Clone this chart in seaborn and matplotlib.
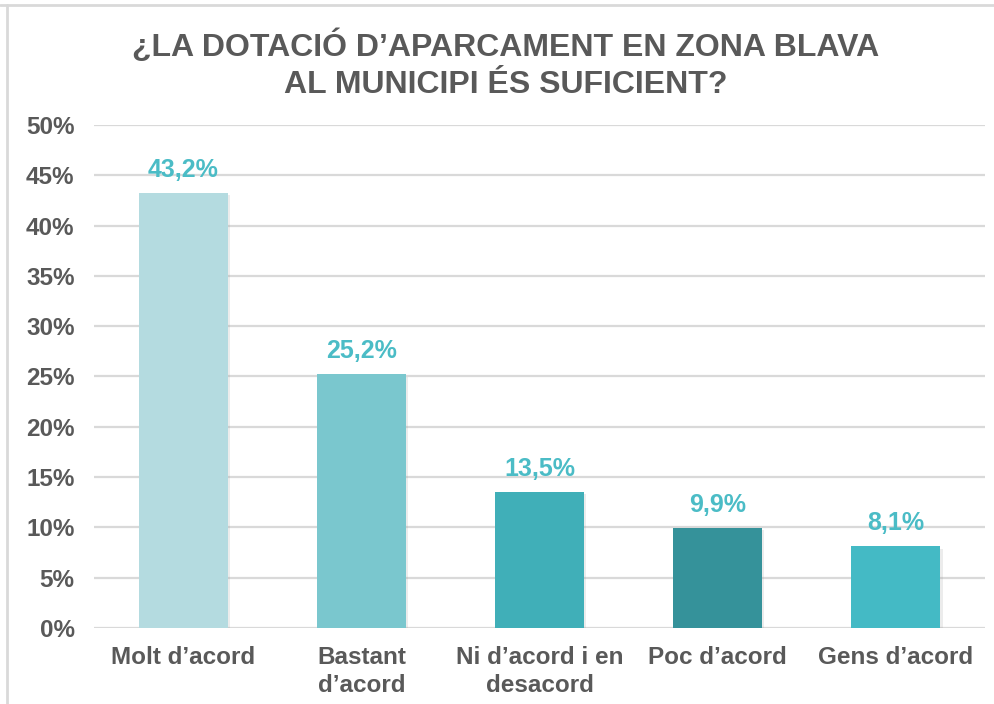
import matplotlib
matplotlib.use("Agg")
import matplotlib.pyplot as plt
from matplotlib import font_manager
from matplotlib import patheffects as pe
from matplotlib.lines import Line2D
import seaborn as sns
import pandas as pd

categories = ["Molt d\u2019acord", "Bastant\nd\u2019acord", "Ni d\u2019acord i en\ndesacord",
              "Poc d\u2019acord", "Gens d\u2019acord"]
values = [43.2, 25.2, 13.5, 9.9, 8.1]
value_labels = ["43,2%", "25,2%", "13,5%", "9,9%", "8,1%"]
bar_colors = ["#B4DBE0", "#7AC7CE", "#40AFB8", "#35929A", "#44BAC5"]
y_ticks = [0, 5, 10, 15, 20, 25, 30, 35, 40, 45, 50]
y_tick_labels = [f"{t}%" for t in y_ticks]
title = "\u00bfLA DOTACI\u00d3 D\u2019APARCAMENT EN ZONA BLAVA\nAL MUNICIPI \u00c9S SUFICIENT?"

sns.set_theme(style="white")
available = {f.name for f in font_manager.fontManager.ttflist}
base_font = "Liberation Sans" if "Liberation Sans" in available else "DejaVu Sans"
title_font = "Liberation Sans Narrow" if "Liberation Sans Narrow" in available else base_font
plt.rcParams["font.family"] = [base_font, "DejaVu Sans"]

text_gray = "#595959"
label_color = "#4BBCC6"
grid_color = "#D9D9D9"

df = pd.DataFrame({"category": categories, "value": values})

fig = plt.figure(figsize=(9.95, 7.04), dpi=100)
ax = fig.add_axes([0.0945, 0.108, 0.8955, 0.7145])

sns.barplot(data=df, x="category", y="value", hue="category", palette=bar_colors,
            width=0.5, legend=False, ax=ax, saturation=1, zorder=3, linewidth=0)

# soft drop shadow under each bar
for patch in ax.patches:
    patch.set_path_effects([
        pe.SimplePatchShadow(offset=(1.5, -1.5), shadow_rgbFace="#9a9a9a", alpha=0.18),
        pe.Normal(),
    ])

ax.set_ylim(0, 50)
ax.set_yticks(y_ticks)
ax.set_yticklabels(y_tick_labels)
ax.set_xlim(-0.5, len(categories) - 0.5)
ax.set_xlabel("")
ax.set_ylabel("")
ax.yaxis.grid(True, color=grid_color, linewidth=1.6, zorder=0)
ax.set_axisbelow(True)
for s in ax.spines.values():
    s.set_visible(False)
ax.tick_params(axis="y", length=0, pad=14, labelsize=17.5, labelcolor=text_gray)
ax.tick_params(axis="x", length=0, pad=13, labelsize=17.5, labelcolor=text_gray)
for lbl in ax.get_yticklabels() + ax.get_xticklabels():
    lbl.set_fontweight("bold")
for lbl in ax.get_xticklabels():
    lbl.set_linespacing(1.25)
    lbl.set_verticalalignment("top")

for i, (v, txt) in enumerate(zip(values, value_labels)):
    ax.annotate(txt, (i, v), xytext=(0, 8), textcoords="offset points",
                ha="center", va="bottom", fontsize=18, fontweight="bold",
                color=label_color)

fig.text(0.508, 0.908, title, ha="center", va="center", fontsize=23,
         fontweight="bold", color=text_gray, family=[title_font, "DejaVu Sans"],
         linespacing=1.28)

# light frame along the top and left edges
fig.add_artist(Line2D([0.0, 1.0], [0.993, 0.993], transform=fig.transFigure,
                      color=grid_color, linewidth=2))
fig.add_artist(Line2D([0.007, 0.007], [0.0, 0.993], transform=fig.transFigure,
                      color=grid_color, linewidth=2))

fig.savefig("out.png", dpi=100, facecolor="white")
